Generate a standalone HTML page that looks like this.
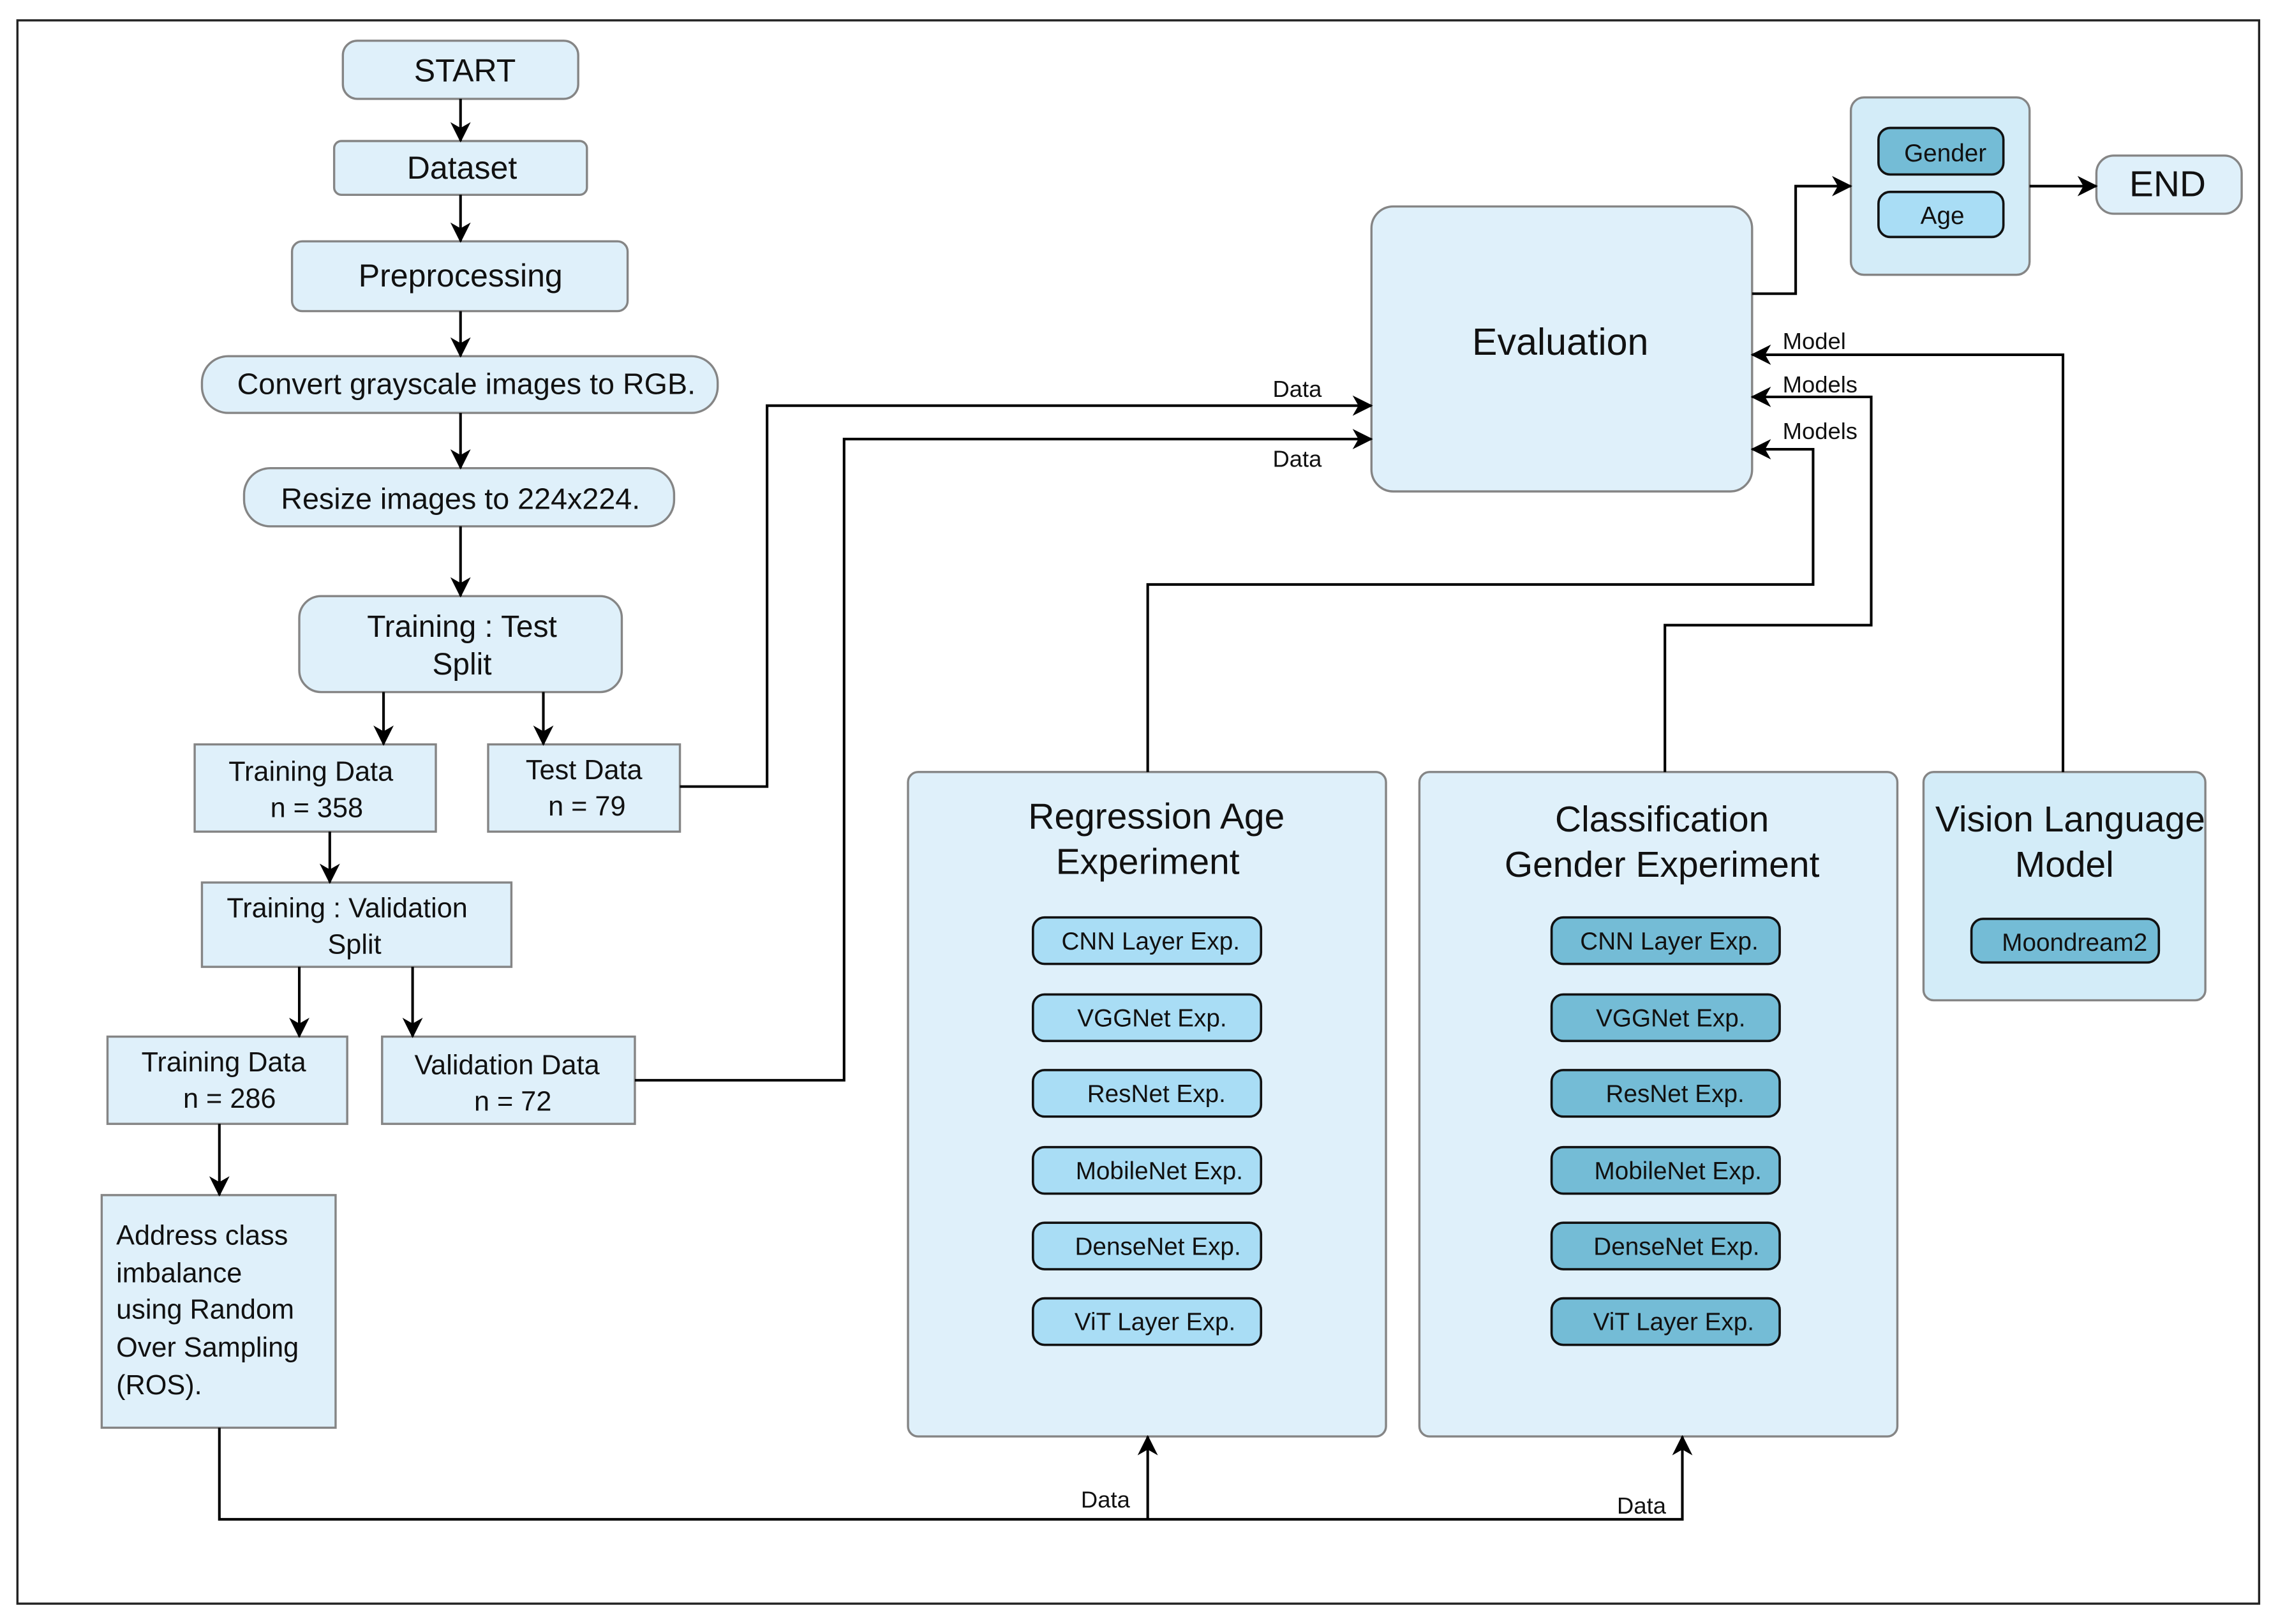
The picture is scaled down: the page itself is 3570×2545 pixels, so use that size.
<!DOCTYPE html>
<html><head><meta charset="utf-8"><style>
html,body{margin:0;padding:0;background:#fff;}
svg{display:block;}
text{font-family:"Liberation Sans",Arial,sans-serif;fill:#111;}
</style></head><body>
<svg width="3570" height="2545" viewBox="0 0 1568 1117" preserveAspectRatio="none" xmlns="http://www.w3.org/2000/svg">
<defs>
<marker id="a" viewBox="0 0 14 14" refX="13" refY="7" markerWidth="14" markerHeight="14" markerUnits="userSpaceOnUse" orient="auto">
<path d="M0,0 L14,7 L0,14 L4,7 z" fill="#000"/></marker>
</defs>
<rect x="12" y="14" width="1543" height="1089" fill="#fff" stroke="#222" stroke-width="1.5"/>
<g fill="#dff0fa" stroke="#858585" stroke-width="1.5">
<rect x="236" y="28" width="162" height="40" rx="10"/>
<rect x="230" y="97" width="174" height="37" rx="5"/>
<rect x="201" y="166" width="231" height="48" rx="7"/>
<rect x="139" y="245" width="355" height="39" rx="18"/>
<rect x="168" y="322" width="296" height="40" rx="18"/>
<rect x="206" y="410" width="222" height="66" rx="15"/>
<rect x="134" y="512" width="166" height="60"/>
<rect x="336" y="512" width="132" height="60"/>
<rect x="139" y="607" width="213" height="58"/>
<rect x="74" y="713" width="165" height="60"/>
<rect x="263" y="713" width="174" height="60"/>
<rect x="70" y="822" width="161" height="160"/>
<rect x="944" y="142" width="262" height="196" rx="15"/>
<rect x="1274" y="67" width="123" height="122" rx="9" fill="#d3ecf8"/>
<rect x="1443" y="107" width="100" height="40" rx="12"/>
<rect x="625" y="531" width="329" height="457" rx="7"/>
<rect x="977" y="531" width="329" height="457" rx="7"/>
<rect x="1324" y="531" width="194" height="157" rx="7" fill="#d3ecf8"/>
</g>
<g stroke="#111" stroke-width="1.6">
<rect x="1293" y="88" width="86" height="32" rx="8" fill="#74bcd6"/>
<rect x="1293" y="132" width="86" height="31" rx="8" fill="#a9ddf5"/>
<rect x="1357" y="632" width="129" height="30" rx="8" fill="#74bcd6"/>
<g fill="#a9ddf5">
<rect x="711" y="631" width="157" height="32" rx="8"/>
<rect x="711" y="684" width="157" height="32" rx="8"/>
<rect x="711" y="736" width="157" height="32" rx="8"/>
<rect x="711" y="789" width="157" height="32" rx="8"/>
<rect x="711" y="841" width="157" height="32" rx="8"/>
<rect x="711" y="893" width="157" height="32" rx="8"/>
</g>
<g fill="#74bcd6">
<rect x="1068" y="631" width="157" height="32" rx="8"/>
<rect x="1068" y="684" width="157" height="32" rx="8"/>
<rect x="1068" y="736" width="157" height="32" rx="8"/>
<rect x="1068" y="789" width="157" height="32" rx="8"/>
<rect x="1068" y="841" width="157" height="32" rx="8"/>
<rect x="1068" y="893" width="157" height="32" rx="8"/>
</g>
</g>
<g fill="none" stroke="#000" stroke-width="1.8" marker-end="url(#a)">
<path d="M317 68V97"/>
<path d="M317 134V166"/>
<path d="M317 214V245"/>
<path d="M317 284V322"/>
<path d="M317 362V410"/>
<path d="M264 476V512"/>
<path d="M374 476V512"/>
<path d="M227 572V607"/>
<path d="M206 665V713"/>
<path d="M284 665V713"/>
<path d="M151 773V822"/>
<path d="M468 541H528V279H944"/>
<path d="M437 743H581V302H944"/>
<path d="M1206 202H1236V128H1274"/>
<path d="M1397 128H1443"/>
<path d="M1420 531V244H1206"/>
<path d="M1146 531V430H1288V273H1206"/>
<path d="M790 531V402H1248V309H1206"/>
<path d="M151 982V1045H1158V988"/>
<path d="M790 1045V988"/>
</g>
<g font-size="22" text-anchor="middle">
<text x="320" y="56">START</text>
<text x="318" y="123">Dataset</text>
<text x="317" y="197">Preprocessing</text>
<text x="321" y="271" font-size="20.5">Convert grayscale images to RGB.</text>
<text x="317" y="350" font-size="20.5">Resize images to 224x224.</text>
<text x="318" y="438" font-size="21">Training : Test</text>
<text x="318" y="464" font-size="21">Split</text>
<text x="1074" y="244" font-size="26">Evaluation</text>
<text x="1492" y="135" font-size="25">END</text>
<text x="796" y="570" font-size="25">Regression Age</text>
<text x="790" y="601" font-size="25">Experiment</text>
<text x="1144" y="572" font-size="25">Classification</text>
<text x="1144" y="603" font-size="25">Gender Experiment</text>
<text x="1425" y="572" font-size="25">Vision Language</text>
<text x="1421" y="603" font-size="25">Model</text>
</g>
<g font-size="19" text-anchor="middle">
<text x="214" y="537">Training Data</text>
<text x="218" y="562">n = 358</text>
<text x="402" y="536">Test Data</text>
<text x="404" y="561">n = 79</text>
<text x="239" y="631">Training : Validation</text>
<text x="244" y="656">Split</text>
<text x="154" y="737">Training Data</text>
<text x="158" y="762">n = 286</text>
<text x="349" y="739">Validation Data</text>
<text x="353" y="764">n = 72</text>
<text x="1339" y="111" font-size="17">Gender</text>
<text x="1337" y="154" font-size="17">Age</text>
<text x="1428" y="654" font-size="17">Moondream2</text>
</g>
<g font-size="19">
<text x="80" y="856">Address class</text>
<text x="80" y="882">imbalance</text>
<text x="80" y="907">using Random</text>
<text x="80" y="933">Over Sampling</text>
<text x="80" y="959">(ROS).</text>
</g>
<g font-size="17" text-anchor="middle">
<text x="792" y="653">CNN Layer Exp.</text>
<text x="793" y="706">VGGNet Exp.</text>
<text x="796" y="758">ResNet Exp.</text>
<text x="798" y="811">MobileNet Exp.</text>
<text x="797" y="863">DenseNet Exp.</text>
<text x="795" y="915">ViT Layer Exp.</text>
<text x="1149" y="653">CNN Layer Exp.</text>
<text x="1150" y="706">VGGNet Exp.</text>
<text x="1153" y="758">ResNet Exp.</text>
<text x="1155" y="811">MobileNet Exp.</text>
<text x="1154" y="863">DenseNet Exp.</text>
<text x="1152" y="915">ViT Layer Exp.</text>
</g>
<g font-size="16">
<text x="876" y="273">Data</text>
<text x="876" y="321">Data</text>
<text x="1227" y="240">Model</text>
<text x="1227" y="270">Models</text>
<text x="1227" y="302">Models</text>
<text x="744" y="1037">Data</text>
<text x="1113" y="1041">Data</text>
</g>
</svg>
</body></html>
